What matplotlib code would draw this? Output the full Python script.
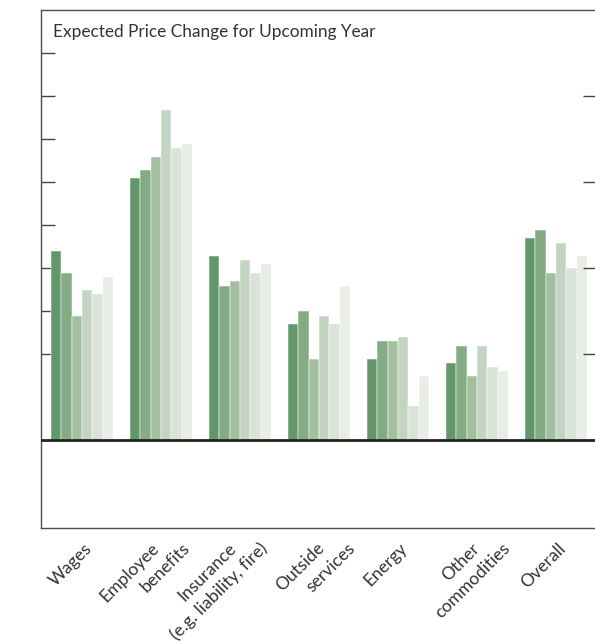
import matplotlib
matplotlib.use("Agg")
import matplotlib.pyplot as plt
import numpy as np

# ---------------- data ----------------
categories = ["Wages", "Employee\nbenefits", "Insurance\n(e.g. liability, fire)",
              "Outside\nservices", "Energy", "Other\ncommodities", "Overall"]
series_names = ["Series 1", "Series 2", "Series 3", "Series 4", "Series 5", "Series 6"]
series_1 = [4.40, 6.10, 4.28, 2.70, 1.88, 1.79, 4.70]
series_2 = [3.89, 6.28, 3.58, 3.00, 2.30, 2.18, 4.88]
series_3 = [2.89, 6.59, 3.70, 1.88, 2.30, 1.48, 3.88]
series_4 = [3.49, 7.68, 4.19, 2.88, 2.39, 2.18, 4.58]
series_5 = [3.39, 6.79, 3.88, 2.70, 0.78, 1.69, 4.00]
series_6 = [3.79, 6.89, 4.09, 3.58, 1.48, 1.60, 4.28]
left_ticks = [2, 3, 4, 5, 6, 7, 8, 9]
right_ticks = [2, 4, 6, 8]
title = "Expected Price Change for Upcoming Year"

series = [series_1, series_2, series_3, series_4, series_5, series_6]
colors = ["#63966a", "#83ab84", "#a2c0a0", "#c3d5c2", "#dae3d9", "#e8ede6"]

plt.rcParams["font.family"] = ["Lato", "DejaVu Sans"]

W, H = 595, 644
fig = plt.figure(figsize=(W / 100, H / 100), dpi=100)
ax_left, ax_right, ax_top, ax_bot = 41, 596, 10, 528
ax = fig.add_axes([ax_left / W, (H - ax_bot) / H, (ax_right - ax_left) / W, (ax_bot - ax_top) / H])

x = np.arange(len(categories))
bw = 0.1308
for k, vals in enumerate(series):
    ax.bar(x + (k - 2.5) * bw, vals, width=bw, color=colors[k],
           edgecolor="white", linewidth=0.35, label=series_names[k], zorder=2)

ax.axhline(0, color="#222222", linewidth=2.0, zorder=4)

ax.set_xlim(-0.519, 6.506)
ax.set_ylim(-2.06, 10.01)
ax.set_xticks([])
ax.set_yticks(left_ticks)
ax.tick_params(axis="y", direction="in", length=10, width=1.0, color="#444444",
               left=True, right=False, labelleft=False)
ax.set_axisbelow(True)
for s in ["left", "top", "bottom"]:
    ax.spines[s].set_color("#4d4d4d")
    ax.spines[s].set_linewidth(1.0)
ax.spines["right"].set_visible(False)

ax2 = ax.twinx()
ax2.set_ylim(ax.get_ylim())
ax2.set_yticks(right_ticks)
ax2.tick_params(axis="y", direction="in", length=9.4, width=1.0, color="#444444",
                labelright=False)
for s in ax2.spines.values():
    s.set_visible(False)

fig.text(53 / W, 1 - 37 / H, title, fontsize=12.4, color="#333333",
         ha="left", va="baseline")

# category labels (rotated, each line stepped to the right)
label_dx = [2, -10, -12, -3, 1, -6, 1]
line_step = 31
for i, cat in enumerate(categories):
    for j, line in enumerate(cat.split("\n")):
        ax.annotate(line, xy=(x[i], 0), xycoords=("data", "axes fraction"),
                    xytext=(label_dx[i] + j * line_step, -12), textcoords="offset pixels",
                    rotation=45, rotation_mode="anchor", ha="right", va="top",
                    fontsize=12.6, color="#333333", annotation_clip=False)

fig.savefig("out.png", dpi=100)
